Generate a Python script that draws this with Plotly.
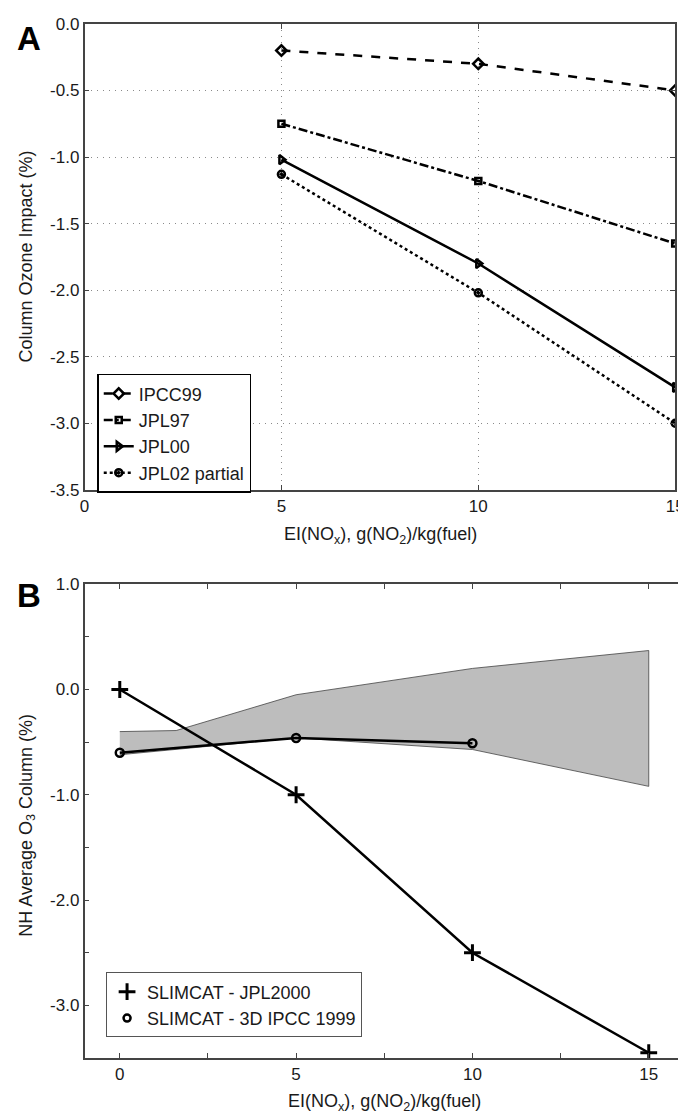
import plotly.graph_objects as go

# ---------------- data ----------------
# Panel A
nox_a = [5, 10, 15]
ipcc99 = [-0.2, -0.3, -0.5]
jpl97 = [-0.75, -1.18, -1.65]
jpl00 = [-1.02, -1.8, -2.73]
jpl02_partial = [-1.13, -2.02, -3.0]
a_xticks = [0, 5, 10, 15]
a_yticks = [0.0, -0.5, -1.0, -1.5, -2.0, -2.5, -3.0, -3.5]
a_ylabels = ["0.0", "-0.5", "-1.0", "-1.5", "-2.0", "-2.5", "-3.0", "-3.5"]

# Panel B
nox_b = [0, 5, 10, 15]
slimcat_jpl2000 = [0.0, -1.0, -2.5, -3.45]
nox_b_ipcc = [0, 5, 10]
slimcat_ipcc1999 = [-0.6, -0.46, -0.51]
band_upper_x = [0, 1.6, 5, 10, 15]
band_upper = [-0.4, -0.39, -0.05, 0.2, 0.37]
band_lower_x = [0, 5, 10, 15]
band_lower = [-0.62, -0.46, -0.57, -0.92]
b_xticks = [0, 2.5, 5, 7.5, 10, 12.5, 15]
b_xlabels = ["0", "", "5", "", "10", "", "15"]
b_yticks = [1.0, 0.5, 0.0, -0.5, -1.0, -1.5, -2.0, -2.5, -3.0, -3.5]
b_ylabels = ["1.0", "", "0.0", "", "-1.0", "", "-2.0", "", "-3.0", ""]

# ---------------- layout helpers ----------------
W, H = 686, 1118
def fx(px):
    return px / W
def fy(py):
    return 1 - py / H

FONT = "Arial, Liberation Sans, sans-serif"
TXT = "#1a1a1a"
FRAME = "#444444"

fig = go.Figure()

# Panel A traces
fig.add_trace(go.Scatter(x=nox_a, y=ipcc99, name="IPCC99", mode="lines+markers",
                         line=dict(color="black", width=2.5, dash="dash"),
                         marker=dict(symbol="diamond-open", size=8, color="black", line=dict(width=2.5)),
                         xaxis="x", yaxis="y", legend="legend"))
fig.add_trace(go.Scatter(x=nox_a, y=jpl97, name="JPL97", mode="lines+markers",
                         line=dict(color="black", width=2.5, dash="dashdot"),
                         marker=dict(symbol="square-open", size=6, color="black", line=dict(width=2.5)),
                         xaxis="x", yaxis="y", legend="legend"))
fig.add_trace(go.Scatter(x=nox_a, y=jpl00, name="JPL00", mode="lines+markers",
                         line=dict(color="black", width=2.5),
                         marker=dict(symbol="triangle-right-open", size=8, color="black", line=dict(width=2.5)),
                         xaxis="x", yaxis="y", legend="legend"))
fig.add_trace(go.Scatter(x=nox_a, y=jpl02_partial, name="JPL02 partial", mode="lines+markers",
                         line=dict(color="black", width=2.5, dash="dot"),
                         marker=dict(symbol="circle-open-dot", size=7, color="black", line=dict(width=2.5)),
                         xaxis="x", yaxis="y", legend="legend"))

# Panel B traces
band_x = band_upper_x + band_lower_x[::-1]
band_y = band_upper + band_lower[::-1]
fig.add_trace(go.Scatter(x=band_x, y=band_y, mode="lines", fill="toself",
                         fillcolor="#bdbdbd", line=dict(color="#444444", width=0.8),
                         showlegend=False, hoverinfo="skip", xaxis="x2", yaxis="y2"))
fig.add_trace(go.Scatter(x=nox_b, y=slimcat_jpl2000, mode="lines+markers", showlegend=False,
                         line=dict(color="black", width=2.5),
                         marker=dict(symbol="cross-thin", size=12, color="black", line=dict(width=3, color="black")),
                         xaxis="x2", yaxis="y2"))
fig.add_trace(go.Scatter(x=nox_b_ipcc, y=slimcat_ipcc1999, mode="lines+markers", showlegend=False,
                         line=dict(color="black", width=2.5),
                         marker=dict(symbol="circle-open", size=8, color="black", line=dict(width=2.5)),
                         xaxis="x2", yaxis="y2"))
# legend-only entries for panel B (markers only, as in the original legend)
fig.add_trace(go.Scatter(x=[None], y=[None], mode="markers", name="SLIMCAT - JPL2000",
                         marker=dict(symbol="cross-thin", size=12, color="black", line=dict(width=3, color="black")),
                         xaxis="x2", yaxis="y2", legend="legend2"))
fig.add_trace(go.Scatter(x=[None], y=[None], mode="markers", name="SLIMCAT - 3D IPCC 1999",
                         marker=dict(symbol="circle-open", size=7, color="black", line=dict(width=2.5)),
                         xaxis="x2", yaxis="y2", legend="legend2"))

axis_common = dict(showline=True, linecolor=FRAME, linewidth=1.5, mirror="ticks",
                   ticks="inside", ticklen=5, tickcolor=FRAME, tickwidth=1,
                   tickfont=dict(family=FONT, size=17, color=TXT), zeroline=False)

grid_common = dict(showgrid=True, gridcolor="#8a8a8a", griddash="1px,5px", gridwidth=1)

fig.update_layout(
    width=W, height=H,
    margin=dict(l=0, r=0, t=0, b=0),
    paper_bgcolor="white", plot_bgcolor="white",
    font=dict(family=FONT, color=TXT),
    xaxis=dict(domain=[fx(73), fx(676)], range=[0, 15], tickvals=a_xticks,
               anchor="y", **grid_common, **axis_common),
    yaxis=dict(domain=[fy(481), fy(7)], range=[-3.5, 0], tickvals=a_yticks, ticktext=a_ylabels,
               anchor="x", **grid_common, **axis_common),
    xaxis2=dict(domain=[fx(73), fx(685)], range=[-1, 16], tickvals=b_xticks, ticktext=b_xlabels,
                showgrid=False, anchor="y2", **axis_common),
    yaxis2=dict(domain=[fy(1059), fy(577)], range=[-3.5, 1.0], tickvals=b_yticks, ticktext=b_ylabels,
                showgrid=False, anchor="x2", **axis_common),
    legend=dict(x=fx(86), y=fy(363), xanchor="left", yanchor="top",
                bgcolor="white", bordercolor="black", borderwidth=1.5,
                font=dict(family=FONT, size=18, color=TXT), itemwidth=30,
                tracegroupgap=0),
    legend2=dict(x=fx(95), y=fy(972), xanchor="left", yanchor="top",
                 bgcolor="white", bordercolor="#555555", borderwidth=1,
                 font=dict(family=FONT, size=18, color=TXT), itemwidth=30),
    showlegend=True,
)

annotations = [
    dict(text="<b>A</b>", x=fx(2), y=fy(22), xanchor="left", yanchor="middle",
         font=dict(family=FONT, size=33, color="black")),
    dict(text="<b>B</b>", x=fx(2), y=fy(588), xanchor="left", yanchor="middle",
         font=dict(family=FONT, size=33, color="black")),
    dict(text="Column Ozone Impact (%)", x=fx(13), y=fy(244), textangle=-90,
         xanchor="center", yanchor="middle", font=dict(family=FONT, size=18, color=TXT)),
    dict(text="NH Average O<sub>3</sub> Column (%)", x=fx(14), y=fy(822), textangle=-90,
         xanchor="center", yanchor="middle", font=dict(family=FONT, size=18, color=TXT)),
    dict(text="EI(NO<sub>x</sub>), g(NO<sub>2</sub>)/kg(fuel)", x=fx(375), y=fy(527),
         xanchor="center", yanchor="middle", font=dict(family=FONT, size=18, color=TXT)),
    dict(text="EI(NO<sub>x</sub>), g(NO<sub>2</sub>)/kg(fuel)", x=fx(379), y=fy(1104),
         xanchor="center", yanchor="middle", font=dict(family=FONT, size=18, color=TXT)),
]
for a in annotations:
    a.update(xref="paper", yref="paper", showarrow=False)
fig.update_layout(annotations=annotations)

fig.write_html("out.html")
